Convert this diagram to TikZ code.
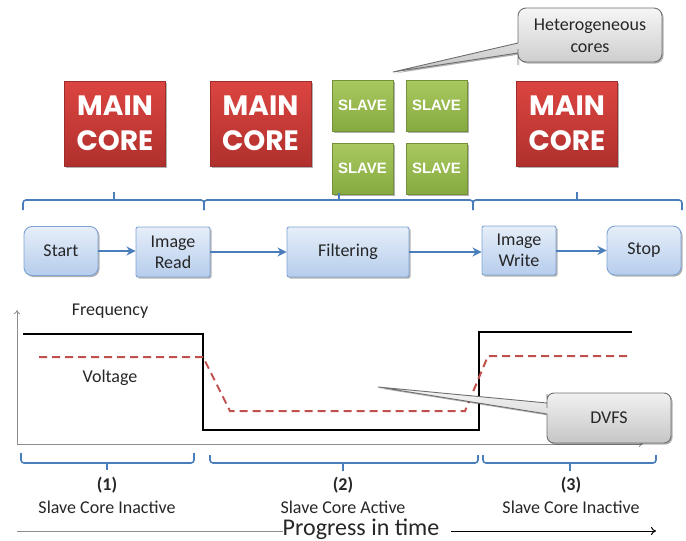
\documentclass[tikz,border=0pt]{standalone}
\usepackage{fontspec}
\setmainfont{Carlito}
\newfontfamily\corefont{Poppins}
\newfontfamily\slavefont{Liberation Sans}
\usetikzlibrary{arrows.meta,shadows}

\definecolor{coreTop}{HTML}{DC4541}
\definecolor{coreBot}{HTML}{B0302D}
\definecolor{coreLine}{HTML}{9E2E2B}
\definecolor{slaveTop}{HTML}{A9C95F}
\definecolor{slaveBot}{HTML}{86AA40}
\definecolor{slaveLine}{HTML}{73913A}
\definecolor{flowTop}{HTML}{E6EEF9}
\definecolor{flowBot}{HTML}{B6CDEC}
\definecolor{flowLine}{HTML}{7FA3D3}
\definecolor{braceBlue}{HTML}{4A7EBB}
\definecolor{voltRed}{HTML}{C0504D}
\definecolor{callTop}{HTML}{F6F6F6}
\definecolor{callBot}{HTML}{C6C6C6}
\definecolor{callLine}{HTML}{6E6E6E}
\definecolor{axisGray}{HTML}{8C8C8C}

\tikzset{
  softshadow/.style={drop shadow={shadow xshift=1.5pt, shadow yshift=-1.5pt, opacity=0.3, fill=black}},
  mainbox/.style={draw=coreLine, line width=0.8pt, top color=coreTop, bottom color=coreBot,
    minimum width=101pt, minimum height=85pt, inner sep=0pt, align=center, text=white,
    font=\corefont\bfseries\fontsize{28}{35}\selectfont, softshadow},
  slavebox/.style={draw=slaveLine, line width=0.8pt, top color=slaveTop, bottom color=slaveBot,
    minimum width=61pt, minimum height=51pt, inner sep=0pt, text=white,
    font=\slavefont\bfseries\fontsize{15}{18}\selectfont, softshadow},
  flowbox/.style={draw=flowLine, line width=0.9pt, top color=flowTop, bottom color=flowBot,
    minimum height=49pt, inner sep=0pt, align=center, text=black!85,
    font=\fontsize{18}{21}\selectfont, softshadow},
  flowarrow/.style={draw=braceBlue, line width=2pt, -{Stealth[length=9pt,width=9pt]}},
  bracket/.style={draw=braceBlue, line width=1.6pt, rounded corners=3pt},
  callout/.style={draw=callLine, line width=0.9pt, top color=callTop, bottom color=callBot, softshadow},
  label/.style={font=\fontsize{18}{21}\selectfont, text=black!85, inner sep=0pt},
  axisline/.style={draw=axisGray, line width=0.8pt},
}

\begin{document}
\begin{tikzpicture}[x=1pt,y=-1pt]
\useasboundingbox (0,0) rectangle (686,541);

% cores
\node[mainbox] (main1) at (115,123.5) {MAIN\\CORE};
\node[mainbox] (main2) at (260.5,123.5) {MAIN\\CORE};
\node[mainbox] (main3) at (567,123.5) {MAIN\\CORE};
\node[slavebox] (slave1) at (362.5,105.5) {SLAVE};
\node[slavebox] (slave2) at (436.5,105.5) {SLAVE};
\node[slavebox] (slave3) at (362.5,168.5) {SLAVE};
\node[slavebox] (slave4) at (436.5,168.5) {SLAVE};

% callout for the slave cores
\coordinate (hetTip) at (393,72);
\draw[callout] (518,38) [rounded corners=8pt] -- (518,8) -- (662,8) -- (662,62) -- (518,62) -- (518,57)
  [sharp corners] -- (518,53) -- (hetTip) -- (518,43) -- cycle;
\node[label, align=center, font=\fontsize{18}{22}\selectfont] (het) at (590,36) {Heterogeneous\\cores};

% phase brackets above the flow
\draw[bracket] (23,210) -- (23,200) -- (204,200) -- (204,210);
\draw[bracket] (114,200) -- (114,192);
\draw[bracket] (204,210) -- (204,200) -- (473,200) -- (473,210);
\draw[bracket] (339,200) -- (339,193);
\draw[bracket] (473,210) -- (473,200) -- (682,200) -- (682,210);
\draw[bracket] (577,200) -- (577,192);

% processing flow
\node[flowbox, minimum width=74pt, rounded corners=8pt] (start) at (61,251) {Start};
\node[flowbox, minimum width=74pt, minimum height=50pt, rounded corners=2pt] (read) at (173,252) {Image\\Read};
\node[flowbox, minimum width=122pt, minimum height=50pt, rounded corners=2pt] (filter) at (348,252) {Filtering};
\node[flowbox, minimum width=74pt, rounded corners=2pt] (write) at (519,250.5) {Image\\Write};
\node[flowbox, minimum width=74pt, rounded corners=8pt] (stop) at (644,250.5) {Stop};
\draw[flowarrow] (start.east) -- (read.west |- start.east);
\draw[flowarrow] (read.east) -- (filter.west |- read.east);
\draw[flowarrow] (filter.east) -- (write.west |- filter.east);
\draw[flowarrow] (write.east) -- (stop.west |- write.east);

% frequency / voltage plot
\coordinate (origin) at (17,444);
\draw[axisline, -{To[length=4pt,width=6pt]}] (origin) -- (17,310);
\draw[axisline, -{To[length=4pt,width=6pt]}] (origin) -- (643,444);
\node[label] (freq) at (110,311) {Frequency};
\node[label] (volt) at (110,378) {Voltage};
\draw[black, line width=2pt] (23,334) -- (203,334) -- (203,430) -- (479,430) -- (479,332) -- (632,332);
\draw[voltRed, line width=2pt, dash pattern=on 8pt off 5pt]
  (39,357) -- (203,357) -- (230,411) -- (465,411) -- (488,356) -- (627,356);

% DVFS callout
\coordinate (dvfsTip) at (378,387);
\draw[callout] (547,422) [rounded corners=7pt] -- (547,443) -- (671,443) -- (671,393) -- (547,393) -- (547,401)
  [sharp corners] -- (547,403) -- (dvfsTip) -- (547,414) -- cycle;
\node[label] (dvfs) at (609,418) {DVFS};

% phase brackets below the plot
\draw[bracket] (21,453) -- (21,463) -- (194,463) -- (194,453);
\draw[bracket] (107,463) -- (107,470);
\draw[bracket] (210,455) -- (210,463) -- (478,463) -- (478,455);
\draw[bracket] (343,463) -- (343,471);
\draw[bracket] (483,455) -- (483,463) -- (656,463) -- (656,455);
\draw[bracket] (570,463) -- (570,471);

\node[label, font=\bfseries\fontsize{18}{21}\selectfont] (p1) at (107,485) {(1)};
\node[label] (p1t) at (107,507) {Slave Core Inactive};
\node[label, font=\bfseries\fontsize{18}{21}\selectfont] (p2) at (343,485) {(2)};
\node[label] (p2t) at (343,507) {Slave Core Active};
\node[label, font=\bfseries\fontsize{18}{21}\selectfont] (p3) at (571,485) {(3)};
\node[label] (p3t) at (571,507) {Slave Core Inactive};

% time axis
\node[label, font=\fontsize{24}{28}\selectfont] (time) at (361,529) {Progress in time};
\coordinate (timeStart) at (17,531);
\coordinate (timeEnd) at (656,531);
\draw[axisline] (timeStart) -- (time.west |- timeStart);
\draw[black, line width=1pt, -{To[length=5pt,width=8pt]}] (time.east |- timeEnd) ++(12,0) -- (timeEnd);
\end{tikzpicture}
\end{document}
